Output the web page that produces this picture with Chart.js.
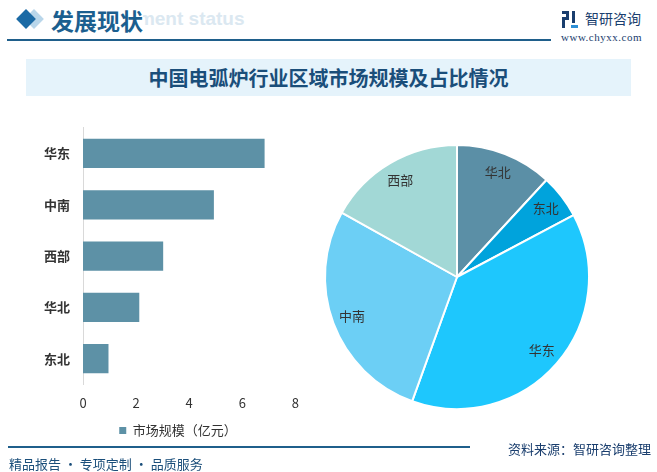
<!DOCTYPE html>
<html>
<head>
<meta charset="utf-8">
<script src="https://cdn.jsdelivr.net/npm/chart.js@4"></script>
<style>
  body{margin:0;width:657px;height:472px;background:#fff;position:relative;overflow:hidden;font-family:"Noto Sans CJK SC","Noto Sans",sans-serif;}
  .abs{position:absolute;}
  .dia{width:14px;height:14px;transform:rotate(45deg);}
  #ghost{left:64px;top:8px;font:bold 19px "Liberation Sans",sans-serif;color:#dbe8f1;white-space:nowrap;}
  #head{left:51px;top:3px;font-weight:bold;font-size:23px;color:#1b5f8f;background:#fff;}
  #hline{left:7px;top:39px;width:544px;height:2px;background:#1f5f8b;}
  #logo{left:585px;top:8px;font-size:14px;color:#1a3e6e;letter-spacing:0px;}
  #www{left:561px;top:31px;font:11px "Liberation Serif",serif;color:#1a3e6e;letter-spacing:0.5px;}
  #tbox{left:26px;top:59px;width:605px;height:37px;background:#e5f3fb;}
  #title{left:26px;top:59px;width:605px;line-height:37px;text-align:center;font-weight:bold;font-size:20px;color:#1a4e7a;}
  #fline{left:8px;top:446px;width:462px;height:2px;background:#1f5f8b;}
  #src{right:6px;top:439px;font-size:13px;color:#1a3e6e;}
  #slogan{left:9px;top:454px;font-size:13px;color:#1a4e7a;}
  #barWrap{left:0;top:107px;width:310px;height:340px;}
  #pieWrap{left:321px;top:141px;width:272px;height:272px;}
</style>
</head>
<body>
<div class="abs dia" style="left:27px;top:12px;background:#b9d6ea;"></div>
<div class="abs dia" style="left:19px;top:12px;background:#1b6aa5;"></div>
<div class="abs" id="ghost">Development status</div>
<div class="abs" id="head">发展现状</div>
<div class="abs" id="hline"></div>
<svg class="abs" style="left:562px;top:11px" width="16" height="17" viewBox="0 0 16 17">
  <rect x="0" y="0" width="7" height="3" fill="#1a3e6e"/><rect x="4" y="0" width="3" height="9" fill="#1a3e6e"/>
  <rect x="0" y="6" width="7" height="3" fill="#1a3e6e"/><rect x="0" y="6" width="3" height="11" fill="#1a3e6e"/>
  <rect x="10" y="0" width="3" height="12" fill="#1a3e6e"/><rect x="9" y="14" width="7" height="3" fill="#2e8fd6"/>
</svg>
<div class="abs" id="logo">智研咨询</div>
<div class="abs" id="www">www.chyxx.com</div>
<div class="abs" id="tbox"></div>
<div class="abs" id="title">中国电弧炉行业区域市场规模及占比情况</div>
<div class="abs" id="barWrap"><canvas id="bar"></canvas></div>
<div class="abs" id="pieWrap"><canvas id="pie"></canvas></div>
<div class="abs" id="fline"></div>
<div class="abs" id="src">资料来源：智研咨询整理</div>
<div class="abs" id="slogan">精品报告 · 专项定制 · 品质服务</div>
<script>
// 柱状图数据（亿元）
const regions = ['华东', '中南', '西部', '华北', '东北'];
const marketSize = [6.84, 4.93, 3.02, 2.12, 0.96];
const xTicks = [0, 2, 4, 6, 8];
// 饼图顺序
const pieRegions = ['华北', '东北', '华东', '中南', '西部'];
const pieValues = [2.12, 0.96, 6.84, 4.93, 3.02];
const pieColors = ['#5b8fa6', '#00a3dc', '#1ec7fd', '#6ccff5', '#a2d8d6'];

const fontCN = '"Noto Sans CJK SC", "Noto Sans", sans-serif';

// 图例整体右移一点
const legendNudge = {
  id: 'legendNudge',
  afterLayout(chart) {
    chart.legend.left += 20;
    chart.legend.right += 20;
  }
};

new Chart(document.getElementById('bar'), {
  type: 'bar',
  data: {
    labels: regions,
    datasets: [{
      label: '市场规模（亿元）',
      data: marketSize,
      backgroundColor: '#5d91a6',
      categoryPercentage: 1,
      barPercentage: 0.57
    }]
  },
  options: {
    indexAxis: 'y',
    responsive: true,
    maintainAspectRatio: false,
    animation: false,
    layout: {padding: {left: 20, right: 14, top: 8, bottom: 0}},
    scales: {
      y: {
        afterFit: s => { s.width = 63; },
        grid: {color: 'transparent', drawTicks: false},
        border: {display: true, color: '#d9d9d9', width: 1},
        ticks: {color: '#333', padding: 13, font: {family: fontCN, size: 13, weight: 'bold'}}
      },
      x: {
        min: 0, max: 8,
        afterBuildTicks: s => { s.ticks = xTicks.map(v => ({value: v})); },
        grid: {display: false, drawTicks: false},
        border: {display: false},
        ticks: {color: '#333', padding: 11, font: {family: fontCN, size: 13}}
      }
    },
    plugins: {
      tooltip: {enabled: false},
      legend: {
        position: 'bottom',
        labels: {boxWidth: 7, boxHeight: 7, color: '#333', padding: 2, font: {family: fontCN, size: 13}}
      }
    }
  },
  plugins: [legendNudge]
});

const pieLabels = {
  id: 'pieLabels',
  afterDatasetsDraw(chart) {
    const ctx = chart.ctx;
    ctx.save();
    ctx.font = '13px ' + fontCN;
    ctx.fillStyle = '#333';
    ctx.textAlign = 'center';
    ctx.textBaseline = 'middle';
    chart.getDatasetMeta(0).data.forEach((arc, i) => {
      const p = arc.getProps(['x', 'y', 'startAngle', 'endAngle', 'outerRadius']);
      const mid = (p.startAngle + p.endAngle) / 2;
      const r = p.outerRadius * 0.85;
      ctx.fillText(chart.data.labels[i], p.x + Math.cos(mid) * r, p.y + Math.sin(mid) * r);
    });
    ctx.restore();
  }
};

new Chart(document.getElementById('pie'), {
  type: 'pie',
  data: {
    labels: pieRegions,
    datasets: [{data: pieValues, backgroundColor: pieColors, borderColor: '#fff', borderWidth: 2}]
  },
  options: {
    responsive: true,
    maintainAspectRatio: false,
    animation: false,
    layout: {padding: 3},
    plugins: {legend: {display: false}, tooltip: {enabled: false}}
  },
  plugins: [pieLabels]
});
</script>
</body>
</html>
